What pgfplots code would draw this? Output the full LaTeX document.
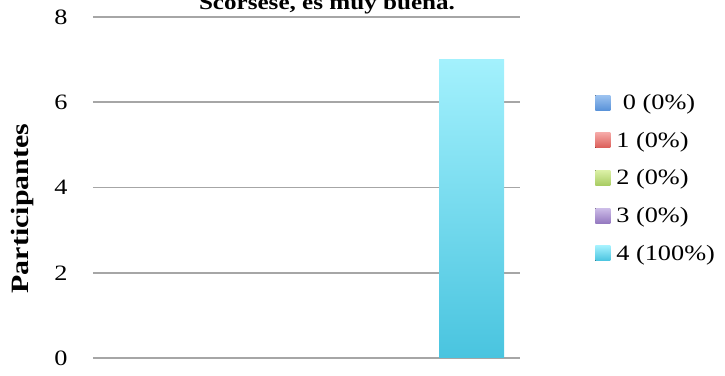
\documentclass[border=0pt]{standalone}
\usepackage{pgfplots}
\pgfplotsset{compat=1.18}
\usepackage{fontspec}
\setmainfont{Liberation Serif}[FakeStretch=1.2]
\definecolor{bTop}{HTML}{9DC3F0}\definecolor{bBot}{HTML}{5A93D9}
\definecolor{rTop}{HTML}{F5A8A6}\definecolor{rBot}{HTML}{DB5D58}
\definecolor{gTop}{HTML}{DBF0A6}\definecolor{gBot}{HTML}{A8CC62}
\definecolor{pTop}{HTML}{CDBDE8}\definecolor{pBot}{HTML}{9579C0}
\definecolor{cTop}{HTML}{A3F1FD}\definecolor{cBot}{HTML}{49C4DF}
\definecolor{gridc}{HTML}{A6A6A6}
\begin{document}
\begin{tikzpicture}
\begin{axis}[
  scale only axis,
  width=427bp, height=341bp,
  xmin=-1, xmax=1,
  ymin=0, ymax=8,
  ytick={0,2,4,6,8},
  xtick=\empty,
  ymajorgrids,
  major grid style={draw=gridc, line width=1.6bp},
  axis line style={draw=none},
  tick style={draw=none},
  /pgf/number format/assume math mode=true,
  yticklabel style={font=\fontsize{22}{26}\selectfont, anchor=east, xshift=-22bp},
  ylabel={\textbf{Participantes}},
  ylabel style={font=\fontsize{25}{29}\selectfont, at={(-0.164,0.438)}, anchor=center, rotate=0},
  title={\textbf{Scorsese, es muy buena.}},
  title style={font=\fontsize{21}{25}\selectfont, at={(0.548,1.003)}, anchor=base},
  bar width=65bp,
  legend style={draw=none, fill=none, at={(1.176,0.780)}, anchor=north west,
    font=\fontsize{22}{26}\selectfont, row sep=17bp, inner sep=0pt},
  legend cell align=left,
  legend image code/.code={\fill[#1] (0bp,-7.5bp) rectangle (15bp,7.5bp); \path (19bp,0bp);},
]
\addplot[ybar, bar shift=-165bp, draw=none, top color=bTop, bottom color=bBot] coordinates {(0,0)};
\addlegendentry{\ 0 (0\%)}
\addplot[ybar, bar shift=-82.5bp, draw=none, top color=rTop, bottom color=rBot] coordinates {(0,0)};
\addlegendentry{1 (0\%)}
\addplot[ybar, bar shift=0bp, draw=none, top color=gTop, bottom color=gBot] coordinates {(0,0)};
\addlegendentry{2 (0\%)}
\addplot[ybar, bar shift=82.5bp, draw=none, top color=pTop, bottom color=pBot] coordinates {(0,0)};
\addlegendentry{3 (0\%)}
\addplot[ybar, bar shift=165bp, draw=none, top color=cTop, bottom color=cBot] coordinates {(0,7)};
\addlegendentry{4 (100\%)}
\end{axis}
\pgfresetboundingbox
\useasboundingbox (-93bp,-18bp) rectangle (632bp,358bp);
\end{tikzpicture}
\end{document}
